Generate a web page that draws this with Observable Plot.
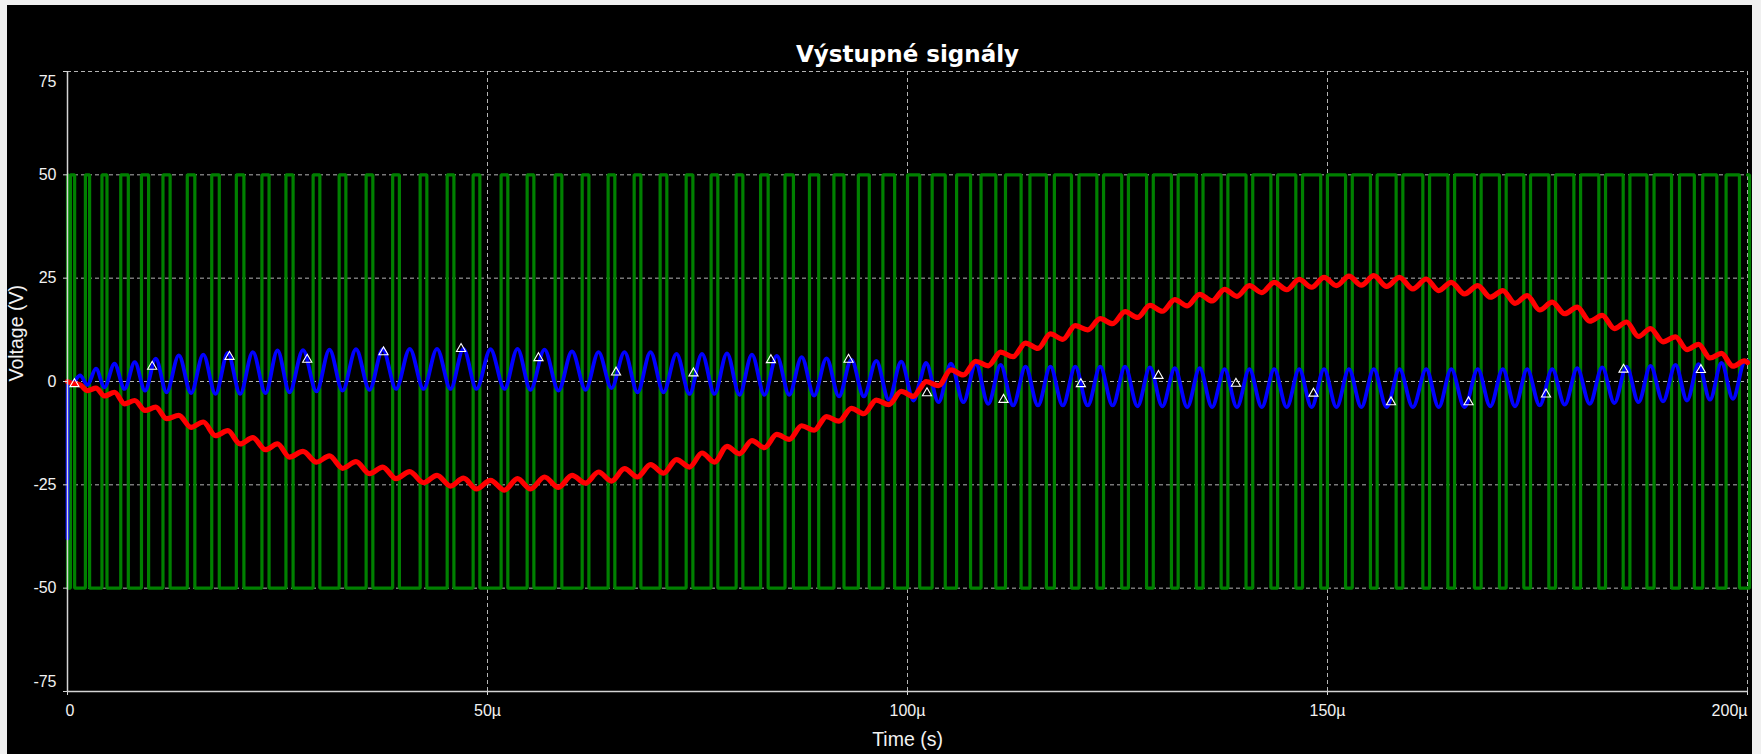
<!DOCTYPE html>
<html>
<head>
<meta charset="utf-8">
<script src="https://cdn.jsdelivr.net/npm/d3@7"></script>
<script src="https://cdn.jsdelivr.net/npm/@observablehq/plot@0.6"></script>
<style>
html,body{margin:0;padding:0;background:#f0f0f0;width:1761px;height:754px;overflow:hidden}
#frame{position:absolute;left:7px;top:5px;width:1745px;height:749px;background:#000}
</style>
</head>
<body>
<div id="frame"></div>
<script>
// ---- data (time in µs, voltage in V) ----
const chartTitle = "Výstupné signály";
const xLabel = "Time (s)";
const yLabel = "Voltage (V)";
const xTicks = [0, 50, 100, 150, 200];
const xTickLabels = ["0", "50µ", "100µ", "150µ", "200µ"];
const yTicks = [75, 50, 25, 0, -25, -50, -75];
const yTickLabels = ["75", "50", "25", "0", "-25", "-50", "-75"];

// centres of the narrow switching pulse of each cycle (high pulses first, low pulses after flip)
const cycleT = [0.60, 2.38, 4.40, 6.79, 9.23, 11.79, 14.71, 17.62, 20.55, 23.57,
  26.43, 29.64, 32.74, 35.95, 39.11, 42.38, 45.60, 48.69, 52.02, 55.12,
  58.45, 61.67, 64.76, 67.86, 70.95, 74.05, 77.02, 80.00, 82.96, 85.92,
  88.88, 91.84, 94.80, 97.77, 100.73, 102.21, 105.17, 108.13, 111.09, 114.05,
  117.01, 119.97, 122.94, 125.90, 128.86, 131.82, 134.78, 137.74, 140.70, 143.66,
  146.63, 149.59, 152.55, 155.51, 158.57, 161.75, 164.73, 167.89, 170.87, 173.77,
  176.75, 179.73, 182.70, 185.60, 188.45, 191.43, 194.17, 196.90, 199.64];
const cycleW = [0.5, 0.5, 0.6, 0.9, 0.85, 0.85, 0.9, 0.9, 0.9, 0.85,
  0.85, 0.8, 0.8, 0.8, 0.8, 0.8, 0.8, 0.8, 0.8, 0.8,
  0.8, 0.8, 0.8, 0.8, 0.8, 0.8, 0.8, 0.8, 0.9, 1.0,
  1.1, 1.2, 1.3, 1.4, 1.45, 1.45, 1.35, 1.25, 1.15, 1.05,
  0.95, 0.9, 0.8, 0.8, 0.8, 0.8, 0.8, 0.8, 0.8, 0.8,
  0.8, 0.8, 0.8, 0.8, 0.8, 0.8, 0.8, 0.8, 0.8, 0.8,
  0.8, 0.8, 0.8, 0.8, 0.85, 0.95, 1.0, 1.1, 1.2];
const flipIndex = 35; // first cycle whose narrow pulse is low
const greenHigh = 50, greenLow = -50;

// red trace: value at each pulse centre and between pulses
const redAtPulse = [-0.5, -2.2, -3.5, -5.4, -7.0, -9.0, -11.1, -13.1, -15.1, -16.5,
  -18.3, -19.5, -21.0, -22.3, -23.5, -24.5, -25.3, -26.0, -26.3, -26.0,
  -25.6, -24.6, -24.1, -23.1, -22.2, -20.7, -19.5, -17.5, -16.0, -14.0,
  -11.8, -9.6, -7.8, -5.6, -3.6, 0.0, 2.8, 4.9, 7.1, 9.3,
  11.5, 13.5, 15.2, 16.9, 18.4, 19.8, 21.1, 22.3, 23.2, 24.0,
  24.7, 25.2, 25.5, 25.6, 25.2, 24.8, 24.0, 23.2, 22.0, 20.8,
  19.2, 18.0, 16.0, 14.4, 12.8, 10.8, 9.0, 6.8, 5.0];
const redBetween = [-0.8, -1.6, -2.6, -4.6, -6.2, -8.2, -9.8, -11.9, -13.6, -15.1,
  -16.9, -18.0, -19.4, -20.7, -21.8, -22.7, -23.4, -23.9, -23.5, -23.1,
  -22.7, -21.9, -21.1, -20.1, -18.9, -17.3, -15.7, -14.3, -12.8, -10.7,
  -8.5, -6.5, -4.5, -2.4, -1.8, -1.0, 1.6, 3.8, 6.0, 8.0,
  10.2, 12.5, 14.0, 15.5, 17.0, 18.3, 19.5, 20.6, 21.5, 22.2,
  22.8, 23.2, 23.3, 23.0, 22.4, 22.0, 21.2, 20.4, 18.9, 17.3,
  16.4, 14.6, 12.8, 10.9, 9.6, 7.7, 5.7, 3.7];
const redStart = 0.0, redEnd = 4.6;

// blue trace
const blueAtPulse = [-0.3, -0.8, -1.4, -1.8, -2.2, -2.6, -2.8, -3.0, -3.0, -2.8,
  -2.6, -2.4, -2.2, -2.0, -1.8, -1.8, -1.8, -1.8, -1.8, -2.0,
  -2.2, -2.0, -1.6, -2.6, -2.6, -3.0, -3.0, -3.2, -3.2, -3.2,
  -3.4, -3.6, -3.6, -4.4, -4.6, 4.5, 4.3, 4.3, 4.0, 3.6,
  3.6, 3.6, 3.6, 3.6, 3.4, 3.2, 3.2, 3.0, 3.0, 3.0,
  3.0, 3.0, 3.0, 3.0, 3.0, 3.0, 3.0, 3.0, 3.0, 3.0,
  3.0, 3.2, 3.4, 3.6, 3.8, 4.0, 4.2, 4.5, 4.8];
const blueBetween = [1.5, 3.1, 4.3, 4.7, 5.5, 6.3, 6.5, 6.9, 7.1, 7.5,
  7.6, 7.7, 7.8, 7.8, 7.9, 7.9, 7.9, 7.8, 7.9, 7.7,
  7.3, 7.1, 7.1, 7.1, 6.7, 6.7, 6.8, 6.5, 6.2, 5.9,
  5.6, 5.3, 5.0, 4.8, 0.0, -5.0, -5.0, -5.4, -5.8, -5.8,
  -5.8, -5.8, -5.8, -6.0, -6.0, -6.2, -6.2, -6.2, -6.2, -6.2,
  -6.2, -6.2, -6.2, -6.2, -6.2, -6.2, -6.2, -6.0, -6.0, -5.8,
  -5.6, -5.4, -5.2, -5.0, -4.8, -4.6, -4.4, -4.2];
const blueStartSpike = -38, blueEnd = 5.0;

// triangle markers on the blue trace
const markT = [0.83, 10.08, 19.29, 28.54, 37.62, 46.85, 56.07, 65.30, 74.52, 83.74,
  92.98, 102.32, 111.43, 120.64, 129.88, 139.10, 148.33, 157.56, 166.79, 176.01,
  185.24, 194.45];
const markV = [-0.6, 3.6, 6.0, 5.3, 7.1, 7.9, 5.7, 2.2, 2.0, 5.2,
  5.3, -2.8, -4.4, -0.6, 1.4, -0.5, -2.9, -5.0, -5.0, -3.1,
  2.9, 2.8];

// ---- build tables ----
const green = [];
let level = greenLow;
green.push({t: 0, v: level});
function edge(t, lv) { green.push({t, v: level}); green.push({t, v: lv}); level = lv; }
edge(0, greenHigh); edge(0.12, greenLow);
cycleT.forEach((c, i) => {
  const a = c - cycleW[i] / 2, b = c + cycleW[i] / 2;
  if (i < flipIndex) { edge(a, greenHigh); edge(b, greenLow); }
  else { edge(a, greenLow); edge(b, greenHigh); }
});
green.push({t: 200, v: level});

const red = [{t: 0, v: redStart}];
const blue = [{t: 0, v: blueStartSpike}, {t: 0.03, v: 0}];
cycleT.forEach((c, i) => {
  red.push({t: c, v: redAtPulse[i]});
  blue.push({t: c, v: blueAtPulse[i]});
  if (i < cycleT.length - 1) {
    const m = (c + cycleT[i + 1]) / 2;
    red.push({t: m, v: redBetween[i]});
    blue.push({t: m, v: blueBetween[i]});
  }
});
red.push({t: 200, v: redEnd});
blue.push({t: 200, v: blueEnd});
const marks = markT.map((t, i) => ({t, v: markV[i]}));

const gridColor = "#b4b4b4", axisColor = "#d4d4d4", textColor = "#f2f2f2";
const midY = yTicks.slice(1, -1), midYL = yTickLabels.slice(1, -1);
const midX = xTicks.slice(1, -1), midXL = xTickLabels.slice(1, -1);

const chart = Plot.plot({
  width: 1745, height: 749,
  marginLeft: 60, marginRight: 5, marginTop: 66, marginBottom: 63,
  style: {background: "#000", color: textColor, fontFamily: "'Liberation Sans', Arial, sans-serif", fontSize: "16px", overflow: "visible"},
  x: {domain: [0, 200], axis: null},
  y: {domain: [-75, 75], axis: null},
  marks: [
    Plot.ruleY(yTicks.slice(0, -1), {stroke: gridColor, strokeDasharray: "4,3", strokeWidth: 1}),
    Plot.ruleX(xTicks.slice(1), {stroke: gridColor, strokeDasharray: "4,3", strokeWidth: 1}),
    Plot.line(green, {x: "t", y: "v", stroke: "#008000", strokeWidth: 3.2, strokeLinejoin: "miter"}),
    Plot.line(blue, {x: "t", y: "v", stroke: "#0000ff", strokeWidth: 3.8, curve: "monotone-x"}),
    Plot.line(red, {x: "t", y: "v", stroke: "#ff0000", strokeWidth: 5.2, curve: "monotone-x"}),
    Plot.dot(marks, {x: "t", y: "v", symbol: "triangle", r: 3.4, stroke: "#ffffff", strokeWidth: 1.1, fill: "none"}),
    Plot.ruleX([0], {stroke: axisColor, strokeWidth: 1.5}),
    Plot.ruleY([-75], {stroke: axisColor, strokeWidth: 1.5}),
    Plot.axisY({ticks: yTicks, tickSize: 4, tickFormat: () => "", label: null, stroke: axisColor}),
    Plot.axisX({ticks: xTicks, tickSize: 4, tickFormat: () => "", label: null, stroke: axisColor}),
    Plot.text(midY, {y: d => d, text: (d, i) => midYL[i], frameAnchor: "left", textAnchor: "end", dx: -11, fill: textColor}),
    Plot.text([yTicks[0]], {y: d => d, text: [yTickLabels[0]], frameAnchor: "left", textAnchor: "end", dx: -11, dy: 10, fill: textColor}),
    Plot.text([yTicks[6]], {y: d => d, text: [yTickLabels[6]], frameAnchor: "left", textAnchor: "end", dx: -11, dy: -10, fill: textColor}),
    Plot.text(midX, {x: d => d, text: (d, i) => midXL[i], frameAnchor: "bottom", lineAnchor: "top", dy: 13, fill: textColor}),
    Plot.text([xTicks[0]], {x: d => d, text: [xTickLabels[0]], frameAnchor: "bottom", lineAnchor: "top", textAnchor: "start", dx: -2, dy: 13, fill: textColor}),
    Plot.text([xTicks[4]], {x: d => d, text: [xTickLabels[4]], frameAnchor: "bottom", lineAnchor: "top", textAnchor: "end", dy: 13, fill: textColor}),
    Plot.text([xLabel], {frameAnchor: "bottom", lineAnchor: "middle", dy: 48, fontSize: 19.5, fill: textColor}),
    Plot.text([yLabel], {frameAnchor: "left", rotate: -90, lineAnchor: "middle", dx: -51, fontSize: 19.5, fill: textColor}),
    Plot.text([chartTitle], {frameAnchor: "top", lineAnchor: "middle", dy: -17, fontSize: 23, fontWeight: "bold", fontFamily: "'DejaVu Sans', sans-serif", fill: "#ffffff"})
  ]
});
document.getElementById("frame").appendChild(chart);
</script>
</body>
</html>
